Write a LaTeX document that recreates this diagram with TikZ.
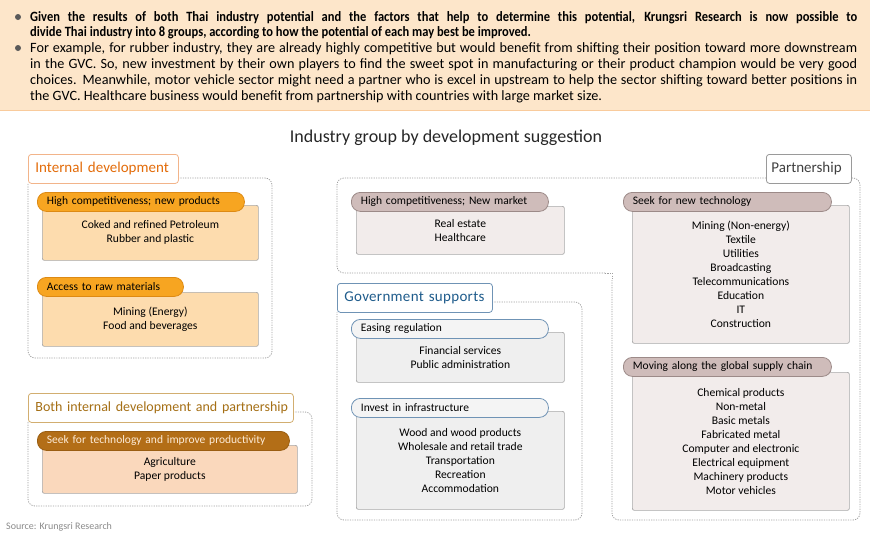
\documentclass[tikz,border=0pt]{standalone}
\usepackage{fontspec}
\setmainfont{Carlito}
\newfontfamily\hdrbold[FakeStretch=0.88]{Carlito Bold}
\definecolor{hdr}{HTML}{FDE6CA}
\definecolor{hdrline}{HTML}{F9CB9C}
\definecolor{bulc}{HTML}{5A5A5A}
\definecolor{orpill}{HTML}{F7A521}
\definecolor{orpilld}{HTML}{DD8A14}
\definecolor{orbody}{HTML}{FDDCAE}
\definecolor{brpill}{HTML}{B36E17}
\definecolor{brpilld}{HTML}{9A5E12}
\definecolor{brbody}{HTML}{FAD8BC}
\definecolor{brtxt}{HTML}{FDEBD6}
\definecolor{mvpill}{HTML}{CFBCBA}
\definecolor{mvpilld}{HTML}{9C8A88}
\definecolor{mvbody}{HTML}{F2ECEB}
\definecolor{gvpill}{HTML}{F4F4F4}
\definecolor{gvline}{HTML}{6F93B5}
\definecolor{gvbody}{HTML}{EFEFEF}
\definecolor{bodyline}{HTML}{A8A8A8}
\definecolor{dashc}{HTML}{A0A0A0}
\definecolor{ortab}{HTML}{F2B48A}
\definecolor{ortxt}{HTML}{E36C0A}
\definecolor{brtab}{HTML}{D2AE70}
\definecolor{brtabtxt}{HTML}{A56F15}
\definecolor{gvtxt}{HTML}{1F5C8C}
\definecolor{pttab}{HTML}{9A9A9A}
\definecolor{pttxt}{HTML}{404040}
\definecolor{srcc}{HTML}{8A8A8A}
\tikzset{
  bodybox/.style={draw=bodyline, line width=0.7pt, rounded corners=2pt, anchor=north west,
    align=center, font=\fontsize{11.6}{14}\selectfont, inner sep=0pt},
  pillbox/.style={rounded corners=9pt, line width=0.8pt, anchor=north west, minimum height=19pt,
    inner xsep=9.5pt, inner ysep=0pt, align=left, font=\fontsize{11.5}{13}\selectfont},
  tabbox/.style={fill=white, line width=0.8pt, rounded corners=3pt, anchor=north west,
    inner xsep=7pt, inner ysep=0pt, align=left},
  dregion/.style={draw=dashc, line width=0.8pt, dash pattern=on 1.2pt off 1.2pt, rounded corners=7pt},
  hline/.style={anchor=base west, inner sep=0pt},
  hreg/.style={hline, font=\fontsize{14.2}{15}\selectfont},
  hbold/.style={hline, font=\hdrbold\fontsize{14.2}{15}\selectfont},
}
\begin{document}
\begin{tikzpicture}[x=1pt,y=-1pt]
\useasboundingbox (0,0) rectangle (870,541);
% header
\fill[hdr] (0,0) rectangle (870,110);
\draw[hdrline, line width=1pt] (0,110) -- (870,110);
\node[circle, fill=bulc, minimum size=6pt, inner sep=0pt] (bul1) at (18,17) {};
\node[circle, fill=bulc, minimum size=6pt, inner sep=0pt] (bul2) at (18,48) {};
\node[hbold] (h1) at (30,21)
  {\makebox[827pt][s]{Given the results of both Thai industry potential and the factors that help to determine this potential, Krungsri Research is now possible to}};
\node[hbold] (h2) at (30,36)
  {divide Thai industry into 8 groups, according to how the potential of each may best be improved.};
\node[hreg] (h3) at (30,52)
  {\makebox[827pt][s]{For example, for rubber industry, they are already highly competitive but would benefit from shifting their position toward more downstream}};
\node[hreg] (h4) at (30,68)
  {\makebox[827pt][s]{in the GVC. So, new investment by their own players to find the sweet spot in manufacturing or their product champion would be very good}};
\node[hreg] (h5) at (30,84)
  {\makebox[827pt][s]{choices. Meanwhile, motor vehicle sector might need a partner who is excel in upstream to help the sector shifting toward better positions in}};
\node[hreg] (h6) at (30,100)
  {the GVC. Healthcare business would benefit from partnership with countries with large market size.};
% title
\node[font=\fontsize{18}{20}\selectfont, text=black!85] (title) at (446,138) {Industry group by development suggestion};

% dashed regions
\draw[dregion] (178,178) -- (272,178) -- (272,358) -- (28,358) -- (28,183);
\draw[dregion] (293,412) -- (312,412) -- (312,506) -- (28,506) -- (28,422);
\draw[dregion] (492,302) -- (582,302) -- (582,520) -- (337,520) -- (337,312);
\draw[dregion] (766,178) -- (337,178) -- (337,273) -- (605,273);
\draw[dregion] (605,273) [sharp corners] -- (612,273) -- (612,280);
\draw[dregion] (612,280) -- (612,520) -- (860,520) -- (860,178) -- (851,178);

% tabs
\node[tabbox, draw=ortab, text=ortxt, text width=136pt, minimum height=29pt, font=\fontsize{15}{17}\selectfont] (tint) at (28,154) {\mbox{Internal development}};
\node[tabbox, draw=brtab, text=brtabtxt, text width=251pt, minimum height=29pt, font=\fontsize{14}{17}\selectfont] (tboth) at (28,393) {\mbox{Both internal development and partnership}};
\node[tabbox, draw=gvline, text=gvtxt, text width=141pt, minimum height=29pt, font=\fontsize{15}{17}\selectfont] (tgov) at (337,283) {\mbox{\addfontfeature{LetterSpace=2}Government supports}};
\node[tabbox, draw=pttab, text=pttxt, text width=75pt, minimum height=29pt, font=\fontsize{15}{17}\selectfont, inner xsep=5pt] (tpart) at (766,154) {\mbox{Partnership}};

% internal development
\node[bodybox, fill=orbody, minimum width=216pt, minimum height=55pt] (b1) at (42,205)
  {Coked and refined Petroleum\\Rubber and plastic};
\node[pillbox, fill=orpill, draw=orpilld, text width=188pt] (p1) at (37,192) {High competitiveness; new products};
\node[bodybox, fill=orbody, minimum width=216pt, minimum height=54pt] (b2) at (42,292)
  {Mining (Energy)\\Food and beverages};
\node[pillbox, fill=orpill, draw=orpilld, text width=127pt] (p2) at (37,277) {Access to raw materials};

% both
\node[bodybox, fill=brbody, minimum width=255pt, minimum height=48pt] (b3) at (42,445)
  {Agriculture\\Paper products};
\node[pillbox, fill=brpill, draw=brpilld, text=brtxt, text width=233pt] (p3) at (37,431) {Seek for technology and improve productivity};

% new market
\node[bodybox, fill=mvbody, minimum width=208pt, minimum height=48pt] (b4) at (356,206)
  {Real estate\\Healthcare};
\node[pillbox, fill=mvpill, draw=mvpilld, text width=178pt] (p4) at (351,192) {High competitiveness; New market};

% government
\node[bodybox, fill=gvbody, minimum width=208pt, minimum height=50pt] (b5) at (356,332)
  {Financial services\\Public administration};
\node[pillbox, fill=gvpill, draw=gvline, text width=178pt] (p5) at (351,319) {Easing regulation};
\node[bodybox, fill=gvbody, minimum width=208pt, minimum height=98pt] (b6) at (356,411)
  {Wood and wood products\\Wholesale and retail trade\\Transportation\\Recreation\\Accommodation};
\node[pillbox, fill=gvpill, draw=gvline, text width=178pt] (p6) at (351,398) {Invest in infrastructure};

% partnership
\node[bodybox, fill=mvbody, minimum width=217pt, minimum height=138pt] (b7) at (632,205)
  {Mining (Non-energy)\\Textile\\Utilities\\Broadcasting\\Telecommunications\\Education\\IT\\Construction};
\node[pillbox, fill=mvpill, draw=mvpilld, text width=189pt] (p7) at (623,192) {Seek for new technology};
\node[bodybox, fill=mvbody, minimum width=217pt, minimum height=138pt] (b8) at (632,372)
  {Chemical products\\Non-metal\\Basic metals\\Fabricated metal\\Computer and electronic\\Electrical equipment\\Machinery products\\Motor vehicles};
\node[pillbox, fill=mvpill, draw=mvpilld, text width=189pt] (p8) at (623,357) {Moving along the global supply chain};

% source
\node[anchor=west, inner sep=0pt, text=srcc, font=\fontsize{10}{11}\selectfont] (src) at (6,527) {Source: Krungsri Research};
\end{tikzpicture}
\end{document}
